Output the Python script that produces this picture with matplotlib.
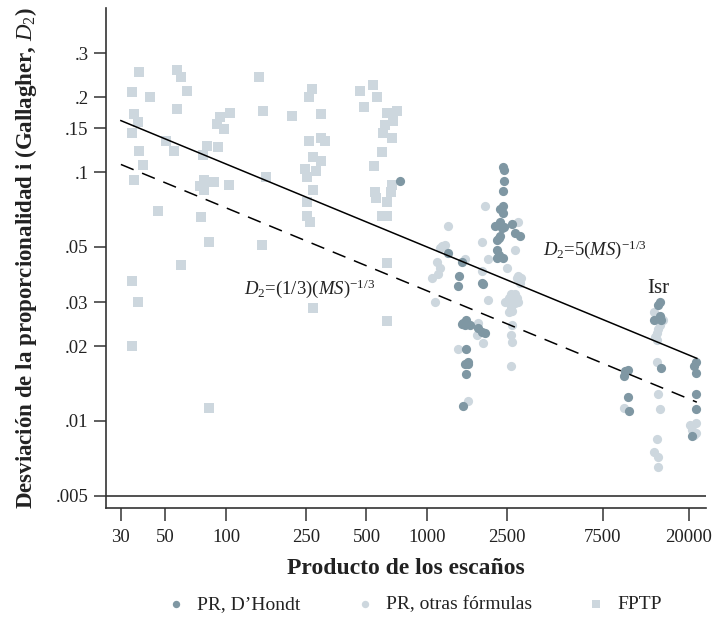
import numpy as np
import matplotlib
matplotlib.use('Agg')
import matplotlib.pyplot as plt

plt.rcParams['font.family'] = ['Liberation Serif', 'DejaVu Serif']
plt.rcParams['mathtext.fontset'] = 'custom'
plt.rcParams['mathtext.rm'] = 'Liberation Serif'
plt.rcParams['mathtext.it'] = 'Liberation Serif:italic'

# PR, D'Hondt (producto de escaños, D2)
dh_x = [734,
        2375, 2416, 2416, 2375, 2375, 2308, 2375, 2308, 2179, 2348, 2416, 2269, 2230, 2308,
        2648, 2741, 2886, 2230, 2269, 2375, 2230,
        1265, 1488, 1451, 1431, 1871, 1910,
        1516, 1563, 1488, 1545, 1637, 1794, 1871, 1944, 1563, 1545, 1591, 1605, 1563, 1516,
        9661, 9943, 9497, 9943, 10150,
        14420, 14150, 14420, 13470, 14590, 14590,
        21790, 21180, 21670, 21670, 21670, 20820]
dh_y = [0.0923,
        0.1050, 0.1019, 0.0924, 0.0839, 0.0730, 0.0710, 0.0684, 0.0628, 0.0607, 0.0596, 0.0604, 0.0541, 0.0533, 0.0553,
        0.0618, 0.0570, 0.0553, 0.0486, 0.0464, 0.0450, 0.0450,
        0.0472, 0.0434, 0.0382, 0.0348, 0.0357, 0.0355,
        0.0247, 0.0254, 0.0245, 0.0243, 0.0243, 0.0236, 0.0228, 0.0225, 0.0195, 0.0170, 0.0169, 0.0172, 0.0154, 0.0115,
        0.0158, 0.0160, 0.0152, 0.0125, 0.0110,
        0.0301, 0.0293, 0.0265, 0.0254, 0.0255, 0.0163,
        0.0173, 0.0166, 0.0156, 0.0128, 0.0112, 0.0087]

# PR, otras formulas
ot_x = [1944, 1276, 1871, 2836, 2741, 1181, 1229, 1154, 1121, 1154, 1140, 1065,
        1545, 2000, 1871, 2500, 2836, 2936, 2788, 2886,
        2603, 2741, 2559, 2788, 2443, 2820, 2620, 2741, 2559, 2660,
        1096, 2000, 2648, 2603, 2648, 1794, 1770, 1910, 1431, 2603, 1591,
        13470, 14980, 14420, 14150, 13860, 13620, 13860, 13860, 14150, 14420, 9497,
        13860, 13470, 14150, 14150,
        20340, 21790, 20820, 21180, 21670]
ot_y = [0.0730, 0.0607, 0.0524, 0.0630, 0.0486, 0.0505, 0.0509, 0.0495, 0.0434, 0.0411, 0.0390, 0.0374,
        0.0447, 0.0447, 0.0402, 0.0411, 0.0382, 0.0374, 0.0374, 0.0357,
        0.0324, 0.0324, 0.0312, 0.0312, 0.0301, 0.0301, 0.0288, 0.0297, 0.0275, 0.0276,
        0.0301, 0.0305, 0.0243, 0.0222, 0.0208, 0.0247, 0.0222, 0.0205, 0.0195, 0.0166, 0.0120,
        0.0275, 0.0254, 0.0243, 0.0234, 0.0225, 0.0218, 0.0211, 0.0173, 0.0128, 0.0112, 0.0113,
        0.00844, 0.00753, 0.00715, 0.00656,
        0.00964, 0.00977, 0.0092, 0.00879, 0.00895]

# FPTP
fp_x = [37.0, 57.3, 59.7, 146.4, 34.0, 42.0, 64.2, 57.3, 153.3, 211.8, 259.7, 267.9, 298,
        34.9, 36.3, 34.0, 93.4, 104.7, 90.7, 98.1, 50.1, 55.3, 80.9, 91.6, 77.1, 37.0,
        38.8, 34.9, 158.1, 78.0, 87.4, 103.9, 74.2, 78.0, 46.0, 75.5, 82.6, 151, 59.7,
        34.0, 36.3, 34.0, 82.6,
        259.7, 295.9, 310.9, 271.9, 295.9, 245.8, 280.4, 253.8, 271.9, 253.8, 253.8, 261.8, 271.9,
        464, 536, 564, 486, 636, 709, 677, 618, 606, 670, 594, 547, 551, 560, 636, 670, 660,
        594, 630, 630, 636]
fp_y = [0.252, 0.257, 0.242, 0.242, 0.2096, 0.2007, 0.2125, 0.179, 0.1766, 0.1683, 0.2007, 0.215, 0.1718,
        0.1718, 0.1588, 0.1438, 0.1663, 0.1734, 0.1566, 0.1492, 0.1332, 0.1214, 0.1278, 0.126, 0.117, 0.1214,
        0.1067, 0.0929, 0.0955, 0.0929, 0.0912, 0.0885, 0.0875, 0.0847, 0.0697, 0.066, 0.0524, 0.0507, 0.0423,
        0.0365, 0.0300, 0.0200, 0.0113,
        0.1336, 0.1373, 0.1332, 0.1152, 0.1107, 0.1028, 0.1009, 0.0955, 0.0847, 0.0760, 0.0666, 0.063, 0.0284,
        0.2125, 0.223, 0.2007, 0.183, 0.1734, 0.1766, 0.1607, 0.1545, 0.1438, 0.1376, 0.1203, 0.1057, 0.0831, 0.0784, 0.076, 0.089, 0.0831,
        0.0666, 0.0666, 0.0433, 0.0253]

ms_range = np.array([30, 22000])

xticks = [30, 50, 100, 250, 500, 1000, 2500, 7500, 20000]
yticks = [0.005, 0.01, 0.02, 0.03, 0.05, 0.1, 0.15, 0.2, 0.3]
ytick_labels = ['.005', '.01', '.02', '.03', '.05', '.1', '.15', '.2', '.3']

dark = '#7f97a3'
light = '#cdd7de'

fig = plt.figure(figsize=(7.12, 6.17), dpi=100)
ax = fig.add_axes([0.1489, 0.1767, 0.8427, 0.8103])

ax.scatter(fp_x, fp_y, marker='s', s=52, color=light, linewidths=0, label='FPTP', zorder=2)
ax.scatter(ot_x, ot_y, marker='o', s=44, color=light, linewidths=0, label='PR, otras fórmulas', zorder=3)
ax.scatter(dh_x, dh_y, marker='o', s=44, color=dark, linewidths=0, label="PR, D\u2019Hondt", zorder=4)

ax.plot(ms_range, 0.5 * ms_range ** (-1 / 3), color='black', lw=1.1, zorder=5)
ax.plot(ms_range, (1 / 3) * ms_range ** (-1 / 3), color='black', lw=1.1, ls=(0, (9, 6)), zorder=5)
ax.axhline(0.005, color='#222222', lw=1.1)

ax.set_xscale('log')
ax.set_yscale('log')
ax.set_xlim(25.3, 24440)
ax.set_ylim(0.00447, 0.456)
ax.set_xticks(xticks)
ax.set_xticklabels([str(t) for t in xticks])
ax.set_yticks(yticks)
ax.set_yticklabels(ytick_labels)
ax.minorticks_off()

for s in ['top', 'right']:
    ax.spines[s].set_visible(False)
for s in ['left', 'bottom']:
    ax.spines[s].set_color('#333333')
    ax.spines[s].set_linewidth(1.2)
ax.tick_params(axis='both', length=9, width=1.1, color='#333333', labelsize=13.5, labelcolor='#222222')
ax.tick_params(axis='x', pad=6)

ax.set_xlabel('Producto de los escaños', fontsize=17, fontweight='bold', color='#222222', labelpad=9)
ax.set_ylabel('Desviación de la proporcionalidad i (Gallagher, $\\mathit{D}_2$)', fontsize=16.5,
              fontweight='bold', color='#222222', labelpad=12)

ax.text(123, 0.034, '$\\mathit{D}_2$=(1/3)($\\mathit{MS}$)$^{-1/3}$', fontsize=13.5, color='#222222',
        va='center', ha='left')
ax.text(3777, 0.0486, '$\\mathit{D}_2$=5($\\mathit{MS}$)$^{-1/3}$', fontsize=13.5, color='#222222',
        va='center', ha='left')
ax.text(14110, 0.0342, 'Isr', fontsize=15, color='#222222', va='center', ha='center')

handles, labels = ax.get_legend_handles_labels()
order = [2, 1, 0]
fig.legend([handles[i] for i in order], [labels[i] for i in order], loc='lower center',
           bbox_to_anchor=(0.575, -0.022), ncol=3, frameon=False, fontsize=14,
           handletextpad=0.1, columnspacing=2.3, markerscale=0.8, labelcolor='#222222')

fig.savefig('out.png', dpi=100)
